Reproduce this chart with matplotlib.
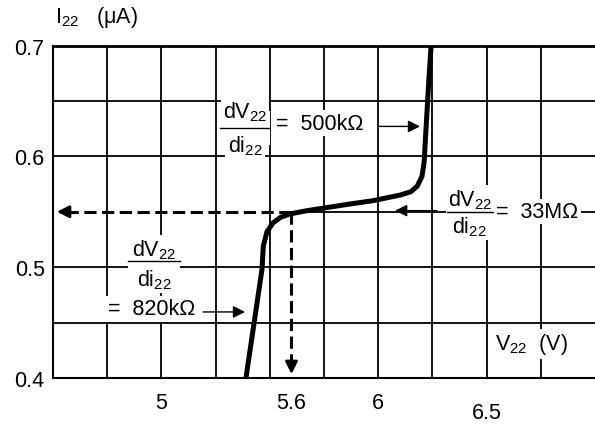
import numpy as np
import matplotlib
matplotlib.use("Agg")
import matplotlib.pyplot as plt

plt.rcParams['font.family'] = ['Liberation Sans', 'DejaVu Sans']
plt.rcParams['mathtext.fontset'] = 'custom'
plt.rcParams['mathtext.rm'] = 'Liberation Sans'
plt.rcParams['mathtext.it'] = 'Liberation Sans'
plt.rcParams['mathtext.default'] = 'regular'

# I-V characteristic
v22 = [5.39, 5.464, 5.47, 5.487, 5.515, 5.55, 5.593, 5.672, 5.87,
       5.976, 6.10, 6.15, 6.18, 6.202, 6.212, 6.216, 6.225, 6.234, 6.244]
i22 = [0.40, 0.498, 0.519, 0.532, 0.540, 0.545, 0.548, 0.551, 0.557,
       0.560, 0.565, 0.568, 0.573, 0.582, 0.595, 0.609, 0.640, 0.670, 0.700]

# operating point
v_op = 5.6
i_op = 0.55

x_grid = np.arange(4.75, 7.0, 0.25)
y_grid = [0.45, 0.5, 0.6, 0.65]
x_ticks = [5, 5.6, 6, 6.5]
x_labels = ['5', '5.6', '6', '6.5']
y_ticks = [0.4, 0.5, 0.6, 0.7]
y_labels = ['0.4', '0.5', '0.6', '0.7']

fs = 15.5
fig = plt.figure(figsize=(5.95, 4.27), dpi=100)
ax = fig.add_axes([53 / 595, 48 / 427, 1 - 53 / 595, 332.5 / 427])
ax.set_xlim(4.5, 7.0)
ax.set_ylim(0.4, 0.7)

for x in x_grid:
    ax.axvline(x, color='black', lw=1.3, zorder=1)
for y in y_grid:
    ax.axhline(y, color='black', lw=1.3, zorder=1)
# the 0.55 line only runs right of the operating point
ax.axhline(i_op, xmin=(v_op - 4.5) / 2.5, color='black', lw=1.3, zorder=1)

ax.spines['right'].set_visible(False)
ax.spines['top'].set_linewidth(2)
ax.spines['left'].set_linewidth(1.5)
ax.spines['bottom'].set_linewidth(1.5)

ax.set_xticks(x_ticks)
ax.set_xticklabels(x_labels, fontsize=fs)
ax.set_yticks(y_ticks)
ax.set_yticklabels(y_labels, fontsize=fs)
ax.tick_params(axis='x', length=0, pad=10)
ax.tick_params(axis='y', length=0, pad=6)
ax.xaxis.get_major_ticks()[3].set_pad(17)

# curve
ax.plot(v22, i22, color='black', lw=3.6, solid_capstyle='butt',
        solid_joinstyle='round', zorder=5)

# dashed operating point lines
ax.plot([v_op, 4.56], [i_op, i_op], color='black', lw=2.2, dashes=(4, 1.8), zorder=4)
ax.plot([v_op, v_op], [i_op, 0.412], color='black', lw=2.2, dashes=(4, 1.8), zorder=4)
ax.annotate('', xy=(4.505, i_op), xytext=(4.57, i_op),
            arrowprops=dict(arrowstyle='-|>', color='black', lw=2, mutation_scale=18), zorder=4)
ax.annotate('', xy=(v_op, 0.401), xytext=(v_op, 0.42),
            arrowprops=dict(arrowstyle='-|>', color='black', lw=2, mutation_scale=18), zorder=4)

white = dict(facecolor='white', edgecolor='none', pad=1.5)


def fraction(xc, y_num, y_bar, y_den, x0, x1):
    ax.text(xc, y_num, 'dV$_{22}$', fontsize=fs, ha='center', va='center',
            bbox=white, zorder=3)
    ax.text(xc, y_den, 'di$_{22}$', fontsize=fs, ha='center', va='center',
            bbox=white, zorder=3)
    ax.fill_between([x0, x1], y_den, y_num, color='white', lw=0, zorder=2)
    ax.plot([x0, x1], [y_bar, y_bar], color='black', lw=1, zorder=3)


def arrow(x_tail, x_tip, y):
    ax.annotate('', xy=(x_tip, y), xytext=(x_tail, y),
                arrowprops=dict(arrowstyle='-|>', color='black', lw=1,
                                mutation_scale=18, shrinkA=0, shrinkB=0), zorder=6)


# 500 kOhm
fraction(5.386, 0.641, 0.626, 0.610, 5.27, 5.50)
ax.text(5.53, 0.630, '=  500kΩ', fontsize=fs, ha='left', va='center', bbox=white, zorder=3)
arrow(5.999, 6.193, 0.627)

# 33 MOhm
fraction(6.423, 0.5615, 0.550, 0.537, 6.317, 6.539)
ax.text(6.545, 0.5505, '=  33MΩ', fontsize=fs, ha='left', va='center', bbox=white, zorder=3)
arrow(6.271, 6.078, 0.551)

# 820 kOhm
fraction(4.966, 0.5164, 0.5056, 0.4894, 4.846, 5.086)
ax.text(4.955, 0.4623, '=  820kΩ', fontsize=fs, ha='center', va='center', bbox=white, zorder=3)
arrow(5.192, 5.386, 0.4596)

# axis names
ax.text(6.54, 0.4307, 'V$_{22}$  (V)', fontsize=fs, ha='left', va='center',
        bbox=white, zorder=3)
fig.text(55 / 595, 1 - 17 / 427, 'I$_{22}$   (μA)', fontsize=fs, ha='left', va='center')

fig.savefig('out.png', dpi=100)
